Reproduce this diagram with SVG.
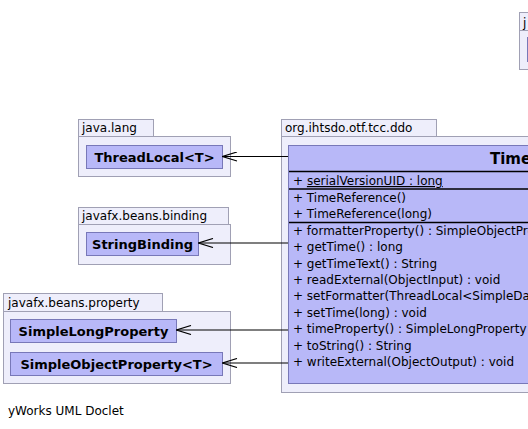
<svg xmlns="http://www.w3.org/2000/svg" width="528" height="429" viewBox="0 0 528 429">
<style>
.pkg{fill:#eeeefb;stroke:#a0a0b4;stroke-width:1}
.node{fill:#b8b8f8;stroke:#7878b8;stroke-width:1}
.plabel{font-family:"DejaVu Sans",sans-serif;font-size:12px;fill:#000}
.nlabel{font-family:"DejaVu Sans",sans-serif;font-size:13px;font-weight:bold;fill:#000;text-anchor:middle}
.member{font-family:"DejaVu Sans",sans-serif;font-size:12px;fill:#000}
.sep{stroke:#000;stroke-width:1.5}
.edge{stroke:#000;stroke-width:1.2;fill:none}
</style>
<defs>
<marker id="open" viewBox="0 0 16 10" refX="15" refY="5" markerWidth="16" markerHeight="10" markerUnits="userSpaceOnUse" orient="auto">
<path d="M0.5,0.5 L15,5 L0.5,9.5" fill="none" stroke="#000" stroke-width="1.2"/>
</marker>
</defs>
<rect width="528" height="429" fill="#fff"/>

<g id="pkg-topright">
<rect class="pkg" x="519.5" y="12.5" width="30" height="18"/>
<rect class="pkg" x="519.5" y="30.5" width="40" height="39"/>
<text class="plabel" x="523" y="27">j</text>
<rect class="node" x="527.5" y="37.5" width="30" height="24"/>
</g>

<g id="pkg-java-lang">
<rect class="pkg" x="78.5" y="119.5" width="75" height="17"/>
<rect class="pkg" x="78.5" y="136.5" width="152" height="40"/>
<text class="plabel" x="82" y="132">java.lang</text>
</g>
<g id="ThreadLocal">
<rect class="node" x="86.5" y="145.5" width="136" height="23"/>
<text class="nlabel" x="154.5" y="161.5">ThreadLocal&lt;T&gt;</text>
</g>

<g id="pkg-javafx-beans-binding">
<rect class="pkg" x="78.5" y="207.5" width="150" height="17"/>
<rect class="pkg" x="78.5" y="224.5" width="152" height="40"/>
<text class="plabel" x="82" y="220">javafx.beans.binding</text>
</g>
<g id="StringBinding">
<rect class="node" x="86.5" y="232.5" width="112" height="23"/>
<text class="nlabel" x="142.5" y="248.5">StringBinding</text>
</g>

<g id="pkg-javafx-beans-property">
<rect class="pkg" x="3.5" y="293.5" width="159" height="18"/>
<rect class="pkg" x="3.5" y="311.5" width="227" height="72"/>
<text class="plabel" x="8" y="307">javafx.beans.property</text>
</g>
<g id="SimpleLongProperty">
<rect class="node" x="10.5" y="319.5" width="166" height="23"/>
<text class="nlabel" x="93.5" y="335.5">SimpleLongProperty</text>
</g>
<g id="SimpleObjectProperty">
<rect class="node" x="10.5" y="352.5" width="212" height="23"/>
<text class="nlabel" x="116.5" y="368.5">SimpleObjectProperty&lt;T&gt;</text>
</g>

<g id="pkg-org-ihtsdo-otf-tcc-ddo">
<rect class="pkg" x="281.5" y="119.5" width="155" height="17"/>
<rect class="pkg" x="281.5" y="136.5" width="270" height="256"/>
<text class="plabel" x="285" y="132">org.ihtsdo.otf.tcc.ddo</text>
</g>
<g id="TimeReference">
<rect class="node" x="288.5" y="145.5" width="260" height="238"/>
<text x="490" y="163.5" font-family="DejaVu Sans, sans-serif" font-size="15" font-weight="bold">TimeReference</text>
<line class="sep" x1="289" y1="171.5" x2="548" y2="171.5"/>
<text class="member" x="293" y="185">+ <tspan text-decoration="underline">serialVersionUID : long</tspan></text>
<line class="sep" x1="289" y1="189" x2="548" y2="189"/>
<text class="member" x="293" y="201.5">+ TimeReference()</text>
<text class="member" x="293" y="217.5">+ TimeReference(long)</text>
<line class="sep" x1="289" y1="222.5" x2="548" y2="222.5"/>
<text class="member" x="293" y="234.5">+ formatterProperty() : SimpleObjectProperty&lt;ThreadLocal&lt;SimpleDateFormat&gt;&gt;</text>
<text class="member" x="293" y="251">+ getTime() : long</text>
<text class="member" x="293" y="267.5">+ getTimeText() : String</text>
<text class="member" x="293" y="284">+ readExternal(ObjectInput) : void</text>
<text class="member" x="293" y="300">+ setFormatter(ThreadLocal&lt;SimpleDateFormat&gt;) : void</text>
<text class="member" x="293" y="316.5">+ setTime(long) : void</text>
<text class="member" x="293" y="333">+ timeProperty() : SimpleLongProperty</text>
<text class="member" x="293" y="349.5">+ toString() : String</text>
<text class="member" x="293" y="366">+ writeExternal(ObjectOutput) : void</text>
</g>

<g id="connectors">
<line class="edge" x1="288" y1="156.5" x2="222.5" y2="156.5" marker-end="url(#open)"/>
<line class="edge" x1="288" y1="243" x2="198.5" y2="243" marker-end="url(#open)"/>
<line class="edge" x1="288" y1="330" x2="176.5" y2="330" marker-end="url(#open)"/>
<line class="edge" x1="288" y1="363" x2="222.5" y2="363" marker-end="url(#open)"/>
</g>

<text x="8" y="415" font-family="DejaVu Sans, sans-serif" font-size="12">yWorks UML Doclet</text>
</svg>
